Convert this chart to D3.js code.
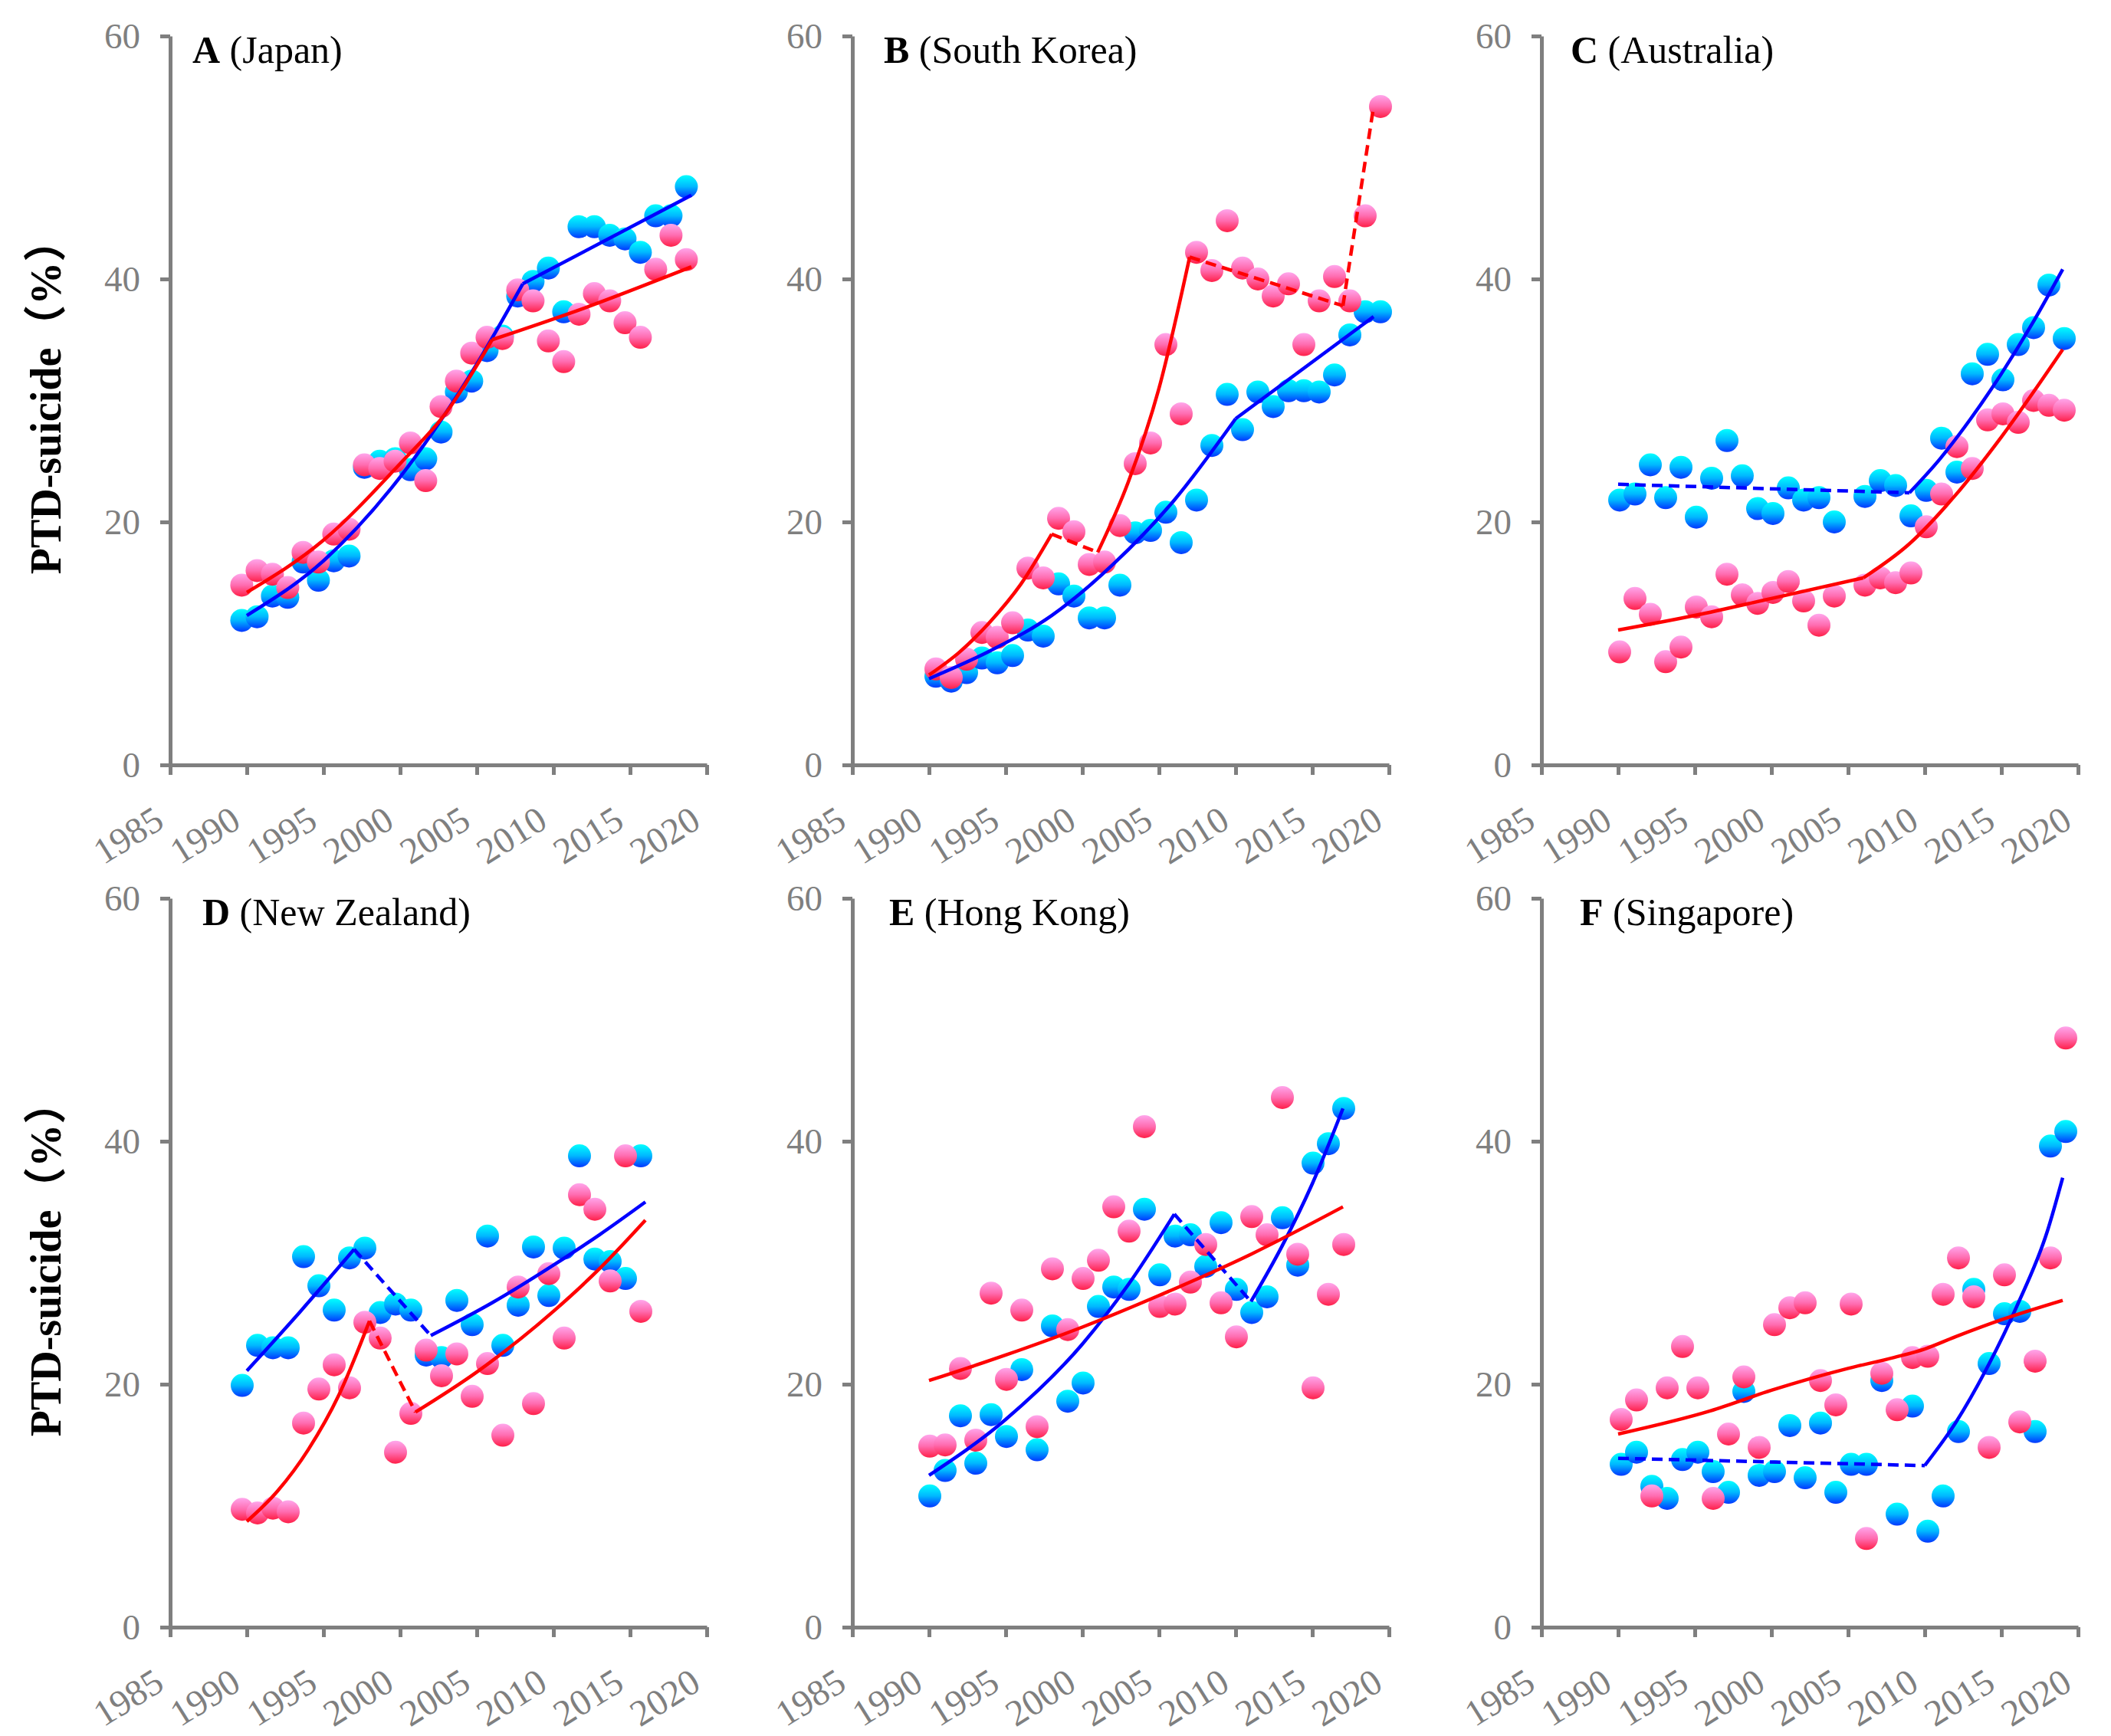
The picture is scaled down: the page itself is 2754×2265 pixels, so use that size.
<!DOCTYPE html>
<html><head><meta charset="utf-8">
<script src="https://cdn.jsdelivr.net/npm/d3@7/dist/d3.min.js"></script>
<style>html,body{margin:0;padding:0;background:#fff}svg{display:block}</style>
</head><body>
<svg id="chart" width="2754" height="2265"></svg>
<script>
// ---------------- DATA ----------------
const panelLetters = ["A", "B", "C", "D", "E", "F"];
const panelNames = ["(Japan)", "(South Korea)", "(Australia)", "(New Zealand)", "(Hong Kong)", "(Singapore)"];
const yAxisTitle = "PTD-suicide\uFF08%\uFF09";
const xTickValues = [1985, 1990, 1995, 2000, 2005, 2010, 2015, 2020];
const yTickValues = [0, 20, 40, 60];

// Japan
const japanYears = [1990,1991,1992,1993,1994,1995,1996,1997,1998,1999,2000,2001,2002,2003,2004,2005,2006,2007,2008,2009,2010,2011,2012,2013,2014,2015,2016,2017,2018,2019];
const japanBlue = [11.9,12.2,13.9,13.8,16.7,15.2,16.8,17.2,24.5,25.0,25.2,24.3,25.2,27.4,30.7,31.6,34.1,35.3,38.6,39.8,40.9,37.3,44.3,44.3,43.6,43.3,42.2,45.2,45.2,47.6];
const japanPink = [14.8,16.0,15.7,14.6,17.5,16.7,19.0,19.4,24.7,24.4,25.0,26.5,23.4,29.5,31.6,33.9,35.2,35.1,39.1,38.2,34.9,33.2,37.1,38.8,38.2,36.4,35.2,40.8,43.6,41.6];
const japanBlueTrend = [
  {sig: true, pts: [[1990,12.3],[1995,16.8],[2000,23.7],[2005,33.0],[2008,39.6]]},
  {sig: true, pts: [[2008,39.6],[2019,46.9]]}
];
const japanPinkTrend = [
  {sig: true, pts: [[1990,14.2],[1995,18.5],[2000,24.8],[2003,29.0],[2006,35.0]]},
  {sig: true, pts: [[2006,35.0],[2012,37.6],[2019,41.0]]}
];

// South Korea
const koreaYears = [1990,1991,1992,1993,1994,1995,1996,1997,1998,1999,2000,2001,2002,2003,2004,2005,2006,2007,2008,2009,2010,2011,2012,2013,2014,2015,2016,2017,2018,2019];
const koreaBlue = [7.3,6.9,7.6,8.8,8.4,9.0,11.1,10.6,14.9,13.9,12.1,12.1,14.8,19.1,19.3,20.8,18.3,21.8,26.3,30.5,27.6,30.7,29.5,30.8,30.8,30.7,32.1,35.4,37.3,37.3];
const koreaPink = [7.9,7.2,8.7,10.9,10.5,11.7,16.2,15.4,20.3,19.2,16.5,16.7,19.7,24.8,26.5,34.6,28.9,42.2,40.7,44.8,40.9,40.0,38.6,39.6,34.6,38.2,40.2,38.2,45.2,54.2];
const koreaBlueTrend = [
  {sig: true, pts: [[1990,7.1],[1994,9.4],[1998,12.3],[2002,16.5],[2006,21.8],[2010,28.5]]},
  {sig: true, pts: [[2010,28.5],[2019,36.9]]}
];
const koreaPinkTrend = [
  {sig: true, pts: [[1990,7.4],[1992,9.3],[1994,11.8],[1996,14.9],[1998,19.0]]},
  {sig: false, pts: [[1998,19.0],[2001,17.5]]},
  {sig: true, pts: [[2001,17.5],[2003,23.3],[2005,31.0],[2007,41.8]]},
  {sig: false, pts: [[2007,41.8],[2017,37.8]]},
  {sig: false, pts: [[2017,37.8],[2019,54.2]]}
];

// Australia (no 2005 point)
const australiaYears = [1990,1991,1992,1993,1994,1995,1996,1997,1998,1999,2000,2001,2002,2003,2004,2006,2007,2008,2009,2010,2011,2012,2013,2014,2015,2016,2017,2018,2019];
const australiaBlue = [21.8,22.3,24.7,22.0,24.5,20.4,23.6,26.7,23.8,21.1,20.7,22.8,21.8,22.0,20.0,22.1,23.4,23.0,20.5,22.6,26.9,24.1,32.2,33.8,31.7,34.6,36.0,39.5,35.1];
const australiaPink = [9.3,13.7,12.4,8.5,9.7,13.0,12.2,15.7,14.0,13.3,14.2,15.1,13.5,11.5,13.9,14.8,15.4,15.0,15.8,19.6,22.3,26.2,24.4,28.4,28.9,28.2,30.0,29.6,29.2];
const australiaBlueTrend = [
  {sig: false, pts: [[1990,23.1],[2009,22.4]]},
  {sig: true, pts: [[2009,22.4],[2011,25.2],[2013,28.5],[2015,32.2],[2017,36.3],[2019,40.8]]}
];
const australiaPinkTrend = [
  {sig: true, pts: [[1990,11.1],[1995,12.3],[2000,13.7],[2006,15.4]]},
  {sig: true, pts: [[2006,15.4],[2009,18.2],[2012,22.2],[2015,27.0],[2019,34.2]]}
];

// New Zealand
const nzYears = [1990,1991,1992,1993,1994,1995,1996,1997,1998,1999,2000,2001,2002,2003,2004,2005,2006,2007,2008,2009,2010,2011,2012,2013,2014,2015,2016];
const nzBlue = [19.9,23.2,23.0,23.0,30.5,28.1,26.1,30.4,31.2,25.9,26.6,26.1,22.4,22.2,26.9,24.9,32.2,23.2,26.5,31.3,27.3,31.2,38.8,30.3,30.1,28.7,38.8];
const nzPink = [9.7,9.4,9.8,9.5,16.8,19.6,21.6,19.7,25.1,23.8,14.4,17.6,22.8,20.7,22.5,19.0,21.7,15.8,28.0,18.4,29.1,23.8,35.6,34.4,28.5,38.8,26.0];
const nzBlueTrend = [
  {sig: true, pts: [[1990,21.1],[1993.5,26.0],[1997,31.1]]},
  {sig: false, pts: [[1997,31.1],[2002,24.0]]},
  {sig: true, pts: [[2002,24.0],[2006,26.7],[2010,29.8],[2013,32.3],[2016,35.0]]}
];
const nzPinkTrend = [
  {sig: true, pts: [[1990,8.7],[1992,11.2],[1994,14.6],[1996,19.1],[1998,25.2]]},
  {sig: false, pts: [[1998,25.2],[2001,17.7]]},
  {sig: true, pts: [[2001,17.7],[2005,21.0],[2010,26.0],[2013,29.5],[2016,33.5]]}
];

// Hong Kong
const hkYears = [1990,1991,1992,1993,1994,1995,1996,1997,1998,1999,2000,2001,2002,2003,2004,2005,2006,2007,2008,2009,2010,2011,2012,2013,2014,2015,2016,2017];
const hkBlue = [10.8,12.9,17.4,13.5,17.5,15.7,21.2,14.6,24.8,18.6,20.1,26.4,28.0,27.8,34.4,29.0,32.2,32.3,29.7,33.3,27.8,25.9,27.2,33.7,29.8,38.2,39.8,42.7];
const hkPink = [14.9,15.0,21.3,15.4,27.5,20.4,26.1,16.5,29.5,24.5,28.7,30.2,34.6,32.6,41.2,26.4,26.6,28.4,31.5,26.7,23.9,33.8,32.3,43.6,30.7,19.7,27.4,31.5];
const hkBlueTrend = [
  {sig: true, pts: [[1990,12.5],[1995,17.1],[2000,23.3],[2003,28.2],[2006,34.0]]},
  {sig: false, pts: [[2006,34.0],[2011,26.8]]},
  {sig: true, pts: [[2011,26.8],[2013,31.3],[2015,36.5],[2017,42.7]]}
];
const hkPinkTrend = [
  {sig: true, pts: [[1990,20.3],[1995,22.4],[2000,24.7],[2005,27.3],[2011,30.7],[2017,34.6]]}
];

// Singapore
const sgYears = [1990,1991,1992,1993,1994,1995,1996,1997,1998,1999,2000,2001,2002,2003,2004,2005,2006,2007,2008,2009,2010,2011,2012,2013,2014,2015,2016,2017,2018,2019];
const sgBlue = [13.4,14.4,11.6,10.6,13.8,14.4,12.8,11.1,19.4,12.5,12.8,16.6,12.3,16.8,11.1,13.4,13.4,20.3,9.3,18.2,7.9,10.8,16.1,27.8,21.7,25.8,26.0,16.1,39.6,40.8];
const sgPink = [17.1,18.7,10.8,19.7,23.1,19.7,10.6,15.9,20.6,14.8,24.9,26.3,26.7,20.3,18.3,26.6,7.3,20.9,17.9,22.2,22.3,27.4,30.4,27.2,14.8,29.0,16.9,21.9,30.4,48.5];
const sgBlueTrend = [
  {sig: false, pts: [[1990,13.9],[2010,13.3]]},
  {sig: true, pts: [[2010,13.3],[2012,16.8],[2014,21.2],[2016,26.4],[2018,32.6],[2019,37.0]]}
];
const sgPinkTrend = [
  {sig: true, pts: [[1990,15.9],[1996,17.8],[2000,19.5],[2005,21.3],[2008,22.2],[2010,22.9],[2012,23.9],[2015,25.3],[2019,26.9]]}
];

const panelData = [
  {years: japanYears, blue: japanBlue, pink: japanPink, blueTrend: japanBlueTrend, pinkTrend: japanPinkTrend},
  {years: koreaYears, blue: koreaBlue, pink: koreaPink, blueTrend: koreaBlueTrend, pinkTrend: koreaPinkTrend},
  {years: australiaYears, blue: australiaBlue, pink: australiaPink, blueTrend: australiaBlueTrend, pinkTrend: australiaPinkTrend},
  {years: nzYears, blue: nzBlue, pink: nzPink, blueTrend: nzBlueTrend, pinkTrend: nzPinkTrend},
  {years: hkYears, blue: hkBlue, pink: hkPink, blueTrend: hkBlueTrend, pinkTrend: hkPinkTrend},
  {years: sgYears, blue: sgBlue, pink: sgPink, blueTrend: sgBlueTrend, pinkTrend: sgPinkTrend}
];

// ---------------- LAYOUT / STYLE ----------------
const colLeft = [222, 1112, 2011];
const plotW = 700;
const rowTop = [47, 1172];
const rowBottom = [998, 2123];
const titleDx = [29, 41, 38, 42, 48, 50];
const markerShift = [-0.33, 0.45, 0.1, -0.3, 0.05, 0.2];   // visual offset of the marker pictures (years)
const axisColor = "#7f7f7f";
const serif = "'Liberation Serif','Times New Roman',Times,serif";

const svg = d3.select("#chart");
svg.append("rect").attr("width", 2754).attr("height", 2265).attr("fill", "#fff");
const defs = svg.append("defs");
function makeGrad(id, stops) {
  const g = defs.append("linearGradient").attr("id", id)
    .attr("x1", 0).attr("y1", 0).attr("x2", 0).attr("y2", 1);
  stops.forEach(([o, c]) => g.append("stop").attr("offset", o).attr("stop-color", c));
}
makeGrad("gPink", [[0, "#ffa6ec"], [0.5, "#ff6cb0"], [1, "#ff1f48"]]);
makeGrad("gBlue", [[0, "#00ffff"], [0.5, "#00b8ff"], [1, "#0036ff"]]);

panelData.forEach((pd, i) => {
  const col = i % 3, row = Math.floor(i / 3);
  const x = d3.scaleLinear().domain([1985, 2020]).range([colLeft[col], colLeft[col] + plotW]);
  const y = d3.scaleLinear().domain([0, 60]).range([rowBottom[row], rowTop[row]]);
  const g = svg.append("g");

  // axes
  const yAx = g.append("g").attr("transform", `translate(${colLeft[col]},0)`)
    .call(d3.axisLeft(y).tickValues(yTickValues).tickSizeInner(13).tickSizeOuter(0).tickPadding(26));
  yAx.attr("font-family", serif);
  yAx.selectAll("text").attr("font-family", serif).attr("font-size", 47).attr("fill", axisColor);
  const xAx = g.append("g").attr("transform", `translate(0,${rowBottom[row]})`)
    .call(d3.axisBottom(x).tickValues(xTickValues).tickFormat(d3.format("d")).tickSizeInner(13).tickSizeOuter(0));
  xAx.attr("font-family", serif);
  xAx.selectAll("text")
    .attr("font-family", serif).attr("font-size", 48).attr("fill", axisColor)
    .attr("text-anchor", "end").attr("dy", null).attr("y", null)
    .attr("transform", "translate(-6,80) rotate(-32)");
  [yAx, xAx].forEach(a => {
    a.select(".domain").attr("stroke", axisColor).attr("stroke-width", 5);
    a.selectAll(".tick line").attr("stroke", axisColor).attr("stroke-width", 5);
  });

  // markers
  const shift = markerShift[i];
  const ptsBlue = pd.years.map((yr, k) => [yr, pd.blue[k]]);
  const ptsPink = pd.years.map((yr, k) => [yr, pd.pink[k]]);
  g.append("g").selectAll("circle").data(ptsBlue).join("circle")
    .attr("cx", d => x(d[0] + shift)).attr("cy", d => y(d[1])).attr("r", 15)
    .attr("fill", "url(#gBlue)");
  g.append("g").selectAll("circle").data(ptsPink).join("circle")
    .attr("cx", d => x(d[0] + shift)).attr("cy", d => y(d[1])).attr("r", 15)
    .attr("fill", "url(#gPink)");

  // trend lines
  const line = d3.line().x(d => x(d[0])).y(d => y(d[1])).curve(d3.curveMonotoneX);
  const drawTrend = (segs, color) => {
    g.append("g").selectAll("path").data(segs).join("path")
      .attr("d", d => line(d.pts))
      .attr("fill", "none").attr("stroke", color).attr("stroke-width", 4.5)
      .attr("stroke-dasharray", d => d.sig ? null : "14,8");
  };
  drawTrend(pd.blueTrend, "#0000ff");
  drawTrend(pd.pinkTrend, "#ff0000");

  // panel title
  const t = g.append("text").attr("x", colLeft[col] + titleDx[i]).attr("y", rowTop[row] + 35)
    .attr("font-family", serif).attr("font-size", 50).attr("fill", "#000");
  t.append("tspan").attr("font-weight", "bold").text(panelLetters[i]);
  t.append("tspan").text(" " + panelNames[i]);

  // y-axis title for left column
  if (col === 0) {
    g.append("text")
      .attr("transform", `translate(79,${(rowTop[row] + rowBottom[row]) / 2 - 5}) rotate(-90)`)
      .attr("text-anchor", "middle")
      .attr("font-family", "'Liberation Serif','Times New Roman','Noto Sans CJK SC',serif")
      .attr("font-weight", "bold").attr("font-size", 56).attr("fill", "#000")
      .text(yAxisTitle);
  }
});
</script>
</body></html>
